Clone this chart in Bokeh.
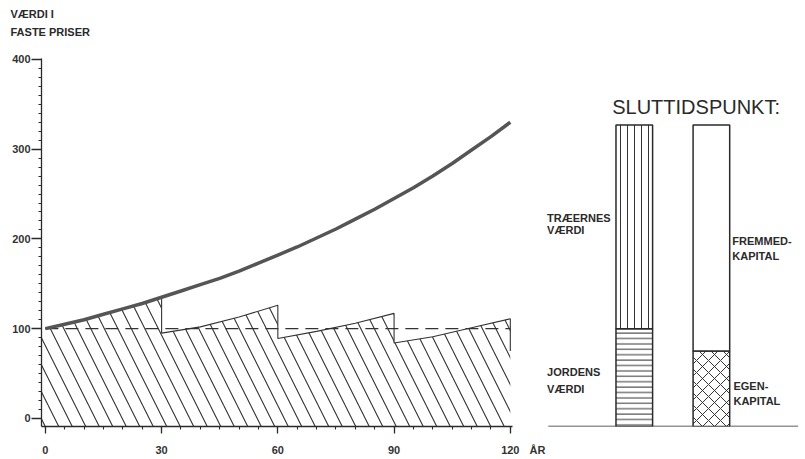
from bokeh.plotting import figure
from bokeh.models import Range1d, FixedTicker, Label, LinearAxis, Title
from bokeh.embed import file_html
from bokeh.resources import INLINE

# ---------------- data ----------------
YEARS = [0, 5, 10, 15, 20, 25, 30, 35, 40, 45, 50, 55, 60,
         65, 70, 75, 80, 85, 90, 95, 100, 105, 110, 115, 120]
TOTAL_VALUE = [100, 105, 110, 116, 122, 128, 135, 142, 149, 156, 164, 173, 182,
               191, 201, 211, 222, 233, 245, 257, 270, 284, 299, 314, 330]

LAND_VALUE = 100
ROTATION_STARTS = [0, 30, 60, 90]
SEG_OFFSETS = [0, 10, 20, 30]
SEG1 = [100, 110, 122, 135]
SEG2 = [95, 102, 113, 126]
SEG3 = [89, 97, 106, 117]
SEG4 = [84, 91, 101, 111]
END_EQUITY = 75

X_TICKS = [0, 30, 60, 90, 120]
Y_TICKS = [0, 100, 200, 300, 400]
X_UNIT_TICK = 127
X_UNIT_LABEL = "ÅR"

# end-point bars (SLUTTIDSPUNKT)
JORDENS_VAERDI = 100
TRAEERNES_VAERDI = 227
EGENKAPITAL = 75
FREMMEDKAPITAL = 252

# ---------------- layout constants ----------------
FLOOR = -9
X0, X1 = -1.0, 194.9
BAR_L, BAR_R, BAR_W = 152.0, 171.9, 9.45
INK = "#2a2a2a"
FONT = "Liberation Sans"

p = figure(width=803, height=458, output_backend="svg", toolbar_location=None,
           title=None,
           x_range=Range1d(X0, X1), y_range=Range1d(FLOOR, 401),
           min_border_left=41, min_border_right=3, min_border_top=58,
           min_border_bottom=32)
p.outline_line_color = None
p.grid.visible = False
p.background_fill_color = "white"

# axes
xa = p.xaxis[0]
xa.ticker = FixedTicker(ticks=X_TICKS, minor_ticks=list(range(0, 121, 5)))
xa.bounds = (X0, 120.5)
xa.major_tick_out = 7
xa.major_tick_in = 0
xa.minor_tick_out = 3
xa.minor_tick_in = 0
xa.major_label_standoff = 12

xl = LinearAxis(ticker=FixedTicker(ticks=[X_UNIT_TICK]),
                major_label_overrides={X_UNIT_TICK: X_UNIT_LABEL},
                axis_line_color=None, major_tick_line_color=None,
                minor_tick_line_color=None, major_tick_out=0, major_tick_in=0,
                major_label_standoff=-13)
p.add_layout(xl, "below")

ya = p.yaxis[0]
ya.ticker = FixedTicker(ticks=Y_TICKS, minor_ticks=list(range(0, 401, 10)))
ya.major_tick_out = 10
ya.major_tick_in = 0
ya.minor_tick_out = 3
ya.minor_tick_in = 0
ya.major_label_standoff = 1
for ax in (xa, ya, xl):
    ax.major_label_text_font = FONT
    ax.major_label_text_font_style = "bold"
    ax.major_label_text_color = "#333333"
    ax.major_label_text_font_size = "11px"
for ax in (xa, ya):
    ax.axis_line_color = INK
    ax.axis_line_width = 1.3
    ax.major_tick_line_color = INK
    ax.major_tick_line_width = 1.3
    ax.minor_tick_line_color = INK
    ax.minor_tick_line_width = 1.1

# y-axis title (two lines, top-left)
for txt, so in (("FASTE PRISER", 41), ("VÆRDI I", -32)):
    p.add_layout(Title(text=txt, align="left", offset=-31, standoff=so,
                       text_font=FONT, text_font_size="11px", text_font_style="bold",
                       text_color=INK), "above")

# sawtooth (equity) outline and hatched area
saw_x, saw_y = [], []
for start, seg in zip(ROTATION_STARTS, [SEG1, SEG2, SEG3, SEG4]):
    saw_x += [start + o for o in SEG_OFFSETS]
    saw_y += seg
saw_x.append(ROTATION_STARTS[-1] + SEG_OFFSETS[-1])
saw_y.append(END_EQUITY)

poly_x = [X0, X0] + saw_x + [saw_x[-1]]
poly_y = [FLOOR, SEG1[0]] + saw_y + [FLOOR]
p.patch(poly_x, poly_y, fill_color=None, line_color=None,
        hatch_pattern="\\", hatch_scale=27, hatch_color="#333333", hatch_weight=1.1)

p.line([YEARS[0], YEARS[-1]], [LAND_VALUE, LAND_VALUE], line_color="#333333",
       line_width=1.1, line_dash="13 7")
p.line(saw_x, saw_y, line_color="#333333", line_width=1.1)
p.line(YEARS, TOTAL_VALUE, line_color="#555555", line_width=3.5)

# end-point bars
p.segment(x0=[129.8], y0=[FLOOR], x1=[194.3], y1=[FLOOR], line_color=INK, line_width=1.5)
p.vbar(x=[BAR_L], width=BAR_W, bottom=FLOOR, top=JORDENS_VAERDI, fill_color="white",
       line_color=INK, line_width=1.5, hatch_pattern="-", hatch_scale=5.4,
       hatch_color="#333333", hatch_weight=1)
p.vbar(x=[BAR_L], width=BAR_W, bottom=JORDENS_VAERDI,
       top=JORDENS_VAERDI + TRAEERNES_VAERDI, fill_color="white",
       line_color=INK, line_width=1.5, hatch_pattern="|", hatch_scale=7,
       hatch_color="#333333", hatch_weight=1)
p.vbar(x=[BAR_R], width=BAR_W, bottom=FLOOR, top=EGENKAPITAL, fill_color="white",
       line_color=INK, line_width=1.5, hatch_pattern="x", hatch_scale=12,
       hatch_color="#333333", hatch_weight=1)
p.vbar(x=[BAR_R], width=BAR_W, bottom=EGENKAPITAL, top=EGENKAPITAL + FREMMEDKAPITAL,
       fill_color="white", line_color=INK, line_width=1.5)

def lab(x, y, t, size="11px", style="bold"):
    p.add_layout(Label(x=x, y=y, text=t, text_font=FONT, text_font_size=size,
                       text_font_style=style, text_color=INK,
                       text_baseline="alphabetic", text_align="left"))

lab(146.3, 347.5, "SLUTTIDSPUNKT:", size="20px", style="normal")
lab(129.5, 223.0, "TRÆERNES")
lab(129.5, 209.9, "VÆRDI")
lab(129.5, 51.6, "JORDENS")
lab(129.5, 32.3, "VÆRDI")
lab(177.3, 197.5, "FREMMED-")
lab(177.3, 181.1, "KAPITAL")
lab(177.6, 35.6, "EGEN-")
lab(177.6, 19.5, "KAPITAL")

open("out.html", "w").write(file_html(p, INLINE))
